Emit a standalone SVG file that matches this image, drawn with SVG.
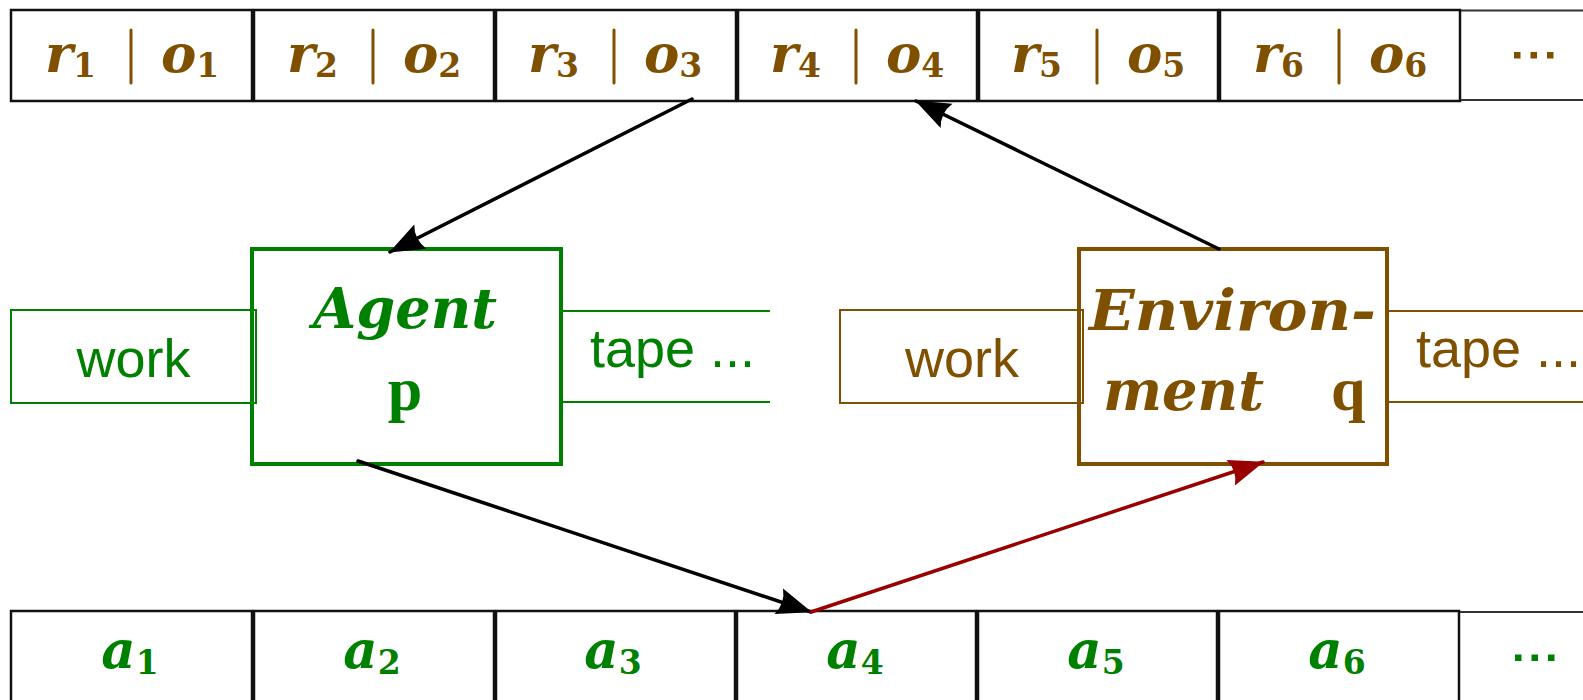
<svg xmlns="http://www.w3.org/2000/svg" width="1583" height="700" viewBox="0 0 1583 700">
<defs>
<style>
.cell{fill:#fff;stroke:#111;stroke-width:2.5}
.cellg{fill:none;stroke:#333;stroke-width:2}
.mb{font-family:"DejaVu Serif",serif;font-weight:bold;font-style:italic;font-size:53px;fill:#7f5000}
.mg{font-family:"DejaVu Serif",serif;font-weight:bold;font-style:italic;font-size:53px;fill:#008000}
.sub{font-style:normal;font-size:33px}
.bar{stroke:#7f5000;stroke-width:3;stroke-linecap:round}
.sans{font-family:"Liberation Sans",Arial,sans-serif;font-size:54px}
.title{font-family:"DejaVu Serif",serif;font-weight:bold;font-style:italic;font-size:56px}
.bold{font-family:"Liberation Serif","Times New Roman",serif;font-weight:bold;font-size:62px}
.gr{fill:#008000}
.br{fill:#7f5000}
.edge{fill:none;stroke-width:3.5;stroke-linecap:round}
</style>
<marker id="ahk" markerUnits="userSpaceOnUse" viewBox="-38 -17 42 34" markerWidth="42" markerHeight="34" refX="0" refY="0" orient="auto">
<path d="M1,0 L-34,-13.5 Q-27,0 -34,13.5 Z" fill="#000"/>
</marker>
<marker id="ahr" markerUnits="userSpaceOnUse" viewBox="-38 -17 42 34" markerWidth="42" markerHeight="34" refX="0" refY="0" orient="auto">
<path d="M1,0 L-34,-13.5 Q-27,0 -34,13.5 Z" fill="#990000"/>
</marker>
</defs>
<rect width="1583" height="700" fill="#fff"/>

<g id="top-tape">
<rect class="cell" x="11" y="10" width="241" height="91"/>
<rect class="cell" x="254" y="10" width="240" height="91"/>
<rect class="cell" x="496" y="10" width="240" height="91"/>
<rect class="cell" x="738" y="10" width="239" height="91"/>
<rect class="cell" x="979" y="10" width="239" height="91"/>
<rect class="cell" x="1220" y="10" width="240" height="91"/>
<path class="cellg" d="M1461,10.5 H1590 M1461,100 H1590"/>
<line class="bar" x1="131" y1="30" x2="131" y2="83"/>
<text class="mb" x="96" y="72" text-anchor="end">r<tspan class="sub" dy="5">1</tspan></text>
<text class="mb" x="161" y="72">o<tspan class="sub" dy="5">1</tspan></text>
<line class="bar" x1="373" y1="30" x2="373" y2="83"/>
<text class="mb" x="338" y="72" text-anchor="end">r<tspan class="sub" dy="5">2</tspan></text>
<text class="mb" x="403" y="72">o<tspan class="sub" dy="5">2</tspan></text>
<line class="bar" x1="614" y1="30" x2="614" y2="83"/>
<text class="mb" x="579" y="72" text-anchor="end">r<tspan class="sub" dy="5">3</tspan></text>
<text class="mb" x="644" y="72">o<tspan class="sub" dy="5">3</tspan></text>
<line class="bar" x1="856" y1="30" x2="856" y2="83"/>
<text class="mb" x="821" y="72" text-anchor="end">r<tspan class="sub" dy="5">4</tspan></text>
<text class="mb" x="886" y="72">o<tspan class="sub" dy="5">4</tspan></text>
<line class="bar" x1="1097" y1="30" x2="1097" y2="83"/>
<text class="mb" x="1062" y="72" text-anchor="end">r<tspan class="sub" dy="5">5</tspan></text>
<text class="mb" x="1127" y="72">o<tspan class="sub" dy="5">5</tspan></text>
<line class="bar" x1="1339" y1="30" x2="1339" y2="83"/>
<text class="mb" x="1304" y="72" text-anchor="end">r<tspan class="sub" dy="5">6</tspan></text>
<text class="mb" x="1369" y="72">o<tspan class="sub" dy="5">6</tspan></text>
<g class="br">
<rect x="1514" y="52" width="6.5" height="6.5"/>
<rect x="1530.5" y="52" width="6.5" height="6.5"/>
<rect x="1547" y="52" width="6.5" height="6.5"/>
</g>
</g>

<g id="bottom-tape">
<rect class="cell" x="11" y="611" width="241" height="110"/>
<rect class="cell" x="254" y="611" width="240" height="110"/>
<rect class="cell" x="496" y="611" width="239" height="110"/>
<rect class="cell" x="737" y="611" width="239" height="110"/>
<rect class="cell" x="978" y="611" width="239" height="110"/>
<rect class="cell" x="1219" y="611" width="240" height="110"/>
<path class="cellg" d="M1460,612 H1590"/>
<text class="mg" x="130" y="668" text-anchor="middle">a<tspan class="sub" dy="6">1</tspan></text>
<text class="mg" x="372" y="668" text-anchor="middle">a<tspan class="sub" dy="6">2</tspan></text>
<text class="mg" x="613" y="668" text-anchor="middle">a<tspan class="sub" dy="6">3</tspan></text>
<text class="mg" x="855" y="668" text-anchor="middle">a<tspan class="sub" dy="6">4</tspan></text>
<text class="mg" x="1096" y="668" text-anchor="middle">a<tspan class="sub" dy="6">5</tspan></text>
<text class="mg" x="1337" y="668" text-anchor="middle">a<tspan class="sub" dy="6">6</tspan></text>
<g class="gr">
<rect x="1515" y="654.5" width="6.5" height="6.5"/>
<rect x="1531.5" y="654.5" width="6.5" height="6.5"/>
<rect x="1548" y="654.5" width="6.5" height="6.5"/>
</g>
</g>

<g id="agent">
<rect x="11" y="310" width="245" height="93" fill="none" stroke="#008000" stroke-width="2"/>
<path d="M561,311 H770 M561,402 H770" fill="none" stroke="#008000" stroke-width="2"/>
<rect x="252" y="249" width="309" height="215" fill="none" stroke="#008000" stroke-width="4"/>
<text class="sans gr" x="133.5" y="377" text-anchor="middle">work</text>
<text class="sans gr" x="590" y="367">tape ...</text>
<text class="title gr" x="313" y="328" textLength="184" lengthAdjust="spacingAndGlyphs">Agent</text>
<text class="bold gr" x="405" y="410" text-anchor="middle">p</text>
</g>

<g id="environment">
<rect x="840" y="310" width="243" height="93" fill="none" stroke="#7f5000" stroke-width="2"/>
<path d="M1387,311 H1590 M1387,402 H1590" fill="none" stroke="#7f5000" stroke-width="2"/>
<rect x="1079" y="249" width="308" height="215" fill="none" stroke="#7f5000" stroke-width="4"/>
<text class="sans br" x="962" y="377" text-anchor="middle">work</text>
<text class="sans br" x="1416" y="367">tape ...</text>
<text class="title br" x="1089" y="330" textLength="287" lengthAdjust="spacingAndGlyphs">Environ-</text>
<text class="title br" x="1103" y="410" textLength="161" lengthAdjust="spacingAndGlyphs">ment</text>
<text class="bold br" x="1331" y="410">q</text>
</g>

<g id="connectors">
<line class="edge" stroke="#000" x1="692" y1="99" x2="390" y2="252" marker-end="url(#ahk)"/>
<line class="edge" stroke="#000" x1="1219" y1="249" x2="916" y2="101" marker-end="url(#ahk)"/>
<line class="edge" stroke="#000" x1="358" y1="461" x2="811" y2="612" marker-end="url(#ahk)"/>
<line class="edge" stroke="#990000" x1="811" y1="612" x2="1263" y2="462" marker-end="url(#ahr)"/>
</g>
</svg>
